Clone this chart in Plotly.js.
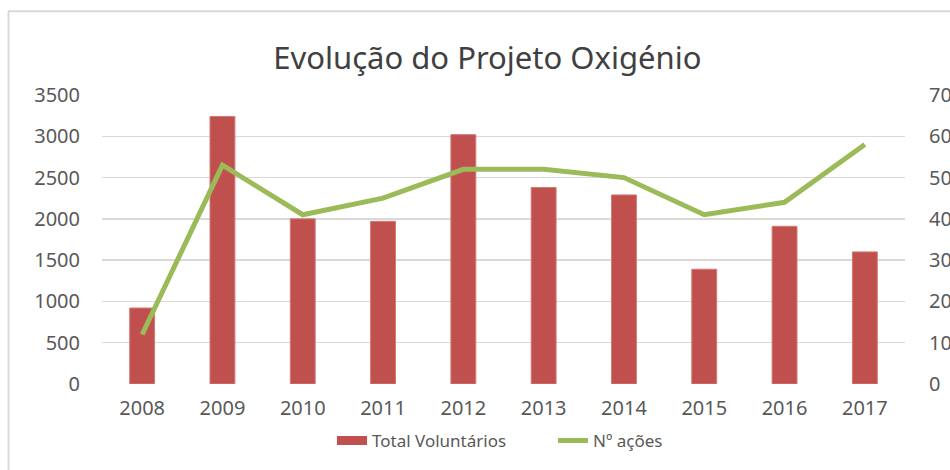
<!DOCTYPE html>
<html>
<head>
<meta charset="utf-8">
<script src="https://cdn.plot.ly/plotly-3.0.1.min.js"></script>
<style>
html,body{margin:0;padding:0;background:#fff;overflow:hidden;}
#chart{width:950px;height:470px;}
</style>
</head>
<body>
<div id="chart"></div>
<script>
const years = ['2008','2009','2010','2011','2012','2013','2014','2015','2016','2017'];
const voluntarios = [920, 3240, 2000, 1970, 3020, 2380, 2290, 1390, 1910, 1600];
const acoes = [12, 53, 41, 45, 52, 52, 50, 41, 44, 58];
const leftTicks = [0,500,1000,1500,2000,2500,3000,3500];
const rightTicks = [0,10,20,30,40,50,60,70];

const font = 'Noto Sans, Open Sans, sans-serif';
const txt = '#595959';
const red = '#C0504D';
const green = '#9BBB59';

const traces = [
  {type:'bar', name:'Total Voluntários', x:years, y:voluntarios, showlegend:false,
   marker:{color:red, line:{color:'#D27A77', width:1}}, yaxis:'y'},
  {type:'scatter', mode:'lines', name:'Total Voluntários', x:[null], y:[null],
   line:{color:red, width:9}, yaxis:'y', hoverinfo:'skip'},
  {type:'scatter', mode:'lines', name:'Nº ações', x:years, y:acoes,
   line:{color:green, width:5}, yaxis:'y2'}
];

const px = v => (v - 102) / 803;
const py = v => (385 - v) / 290;

const layout = {
  width:950, height:470,
  margin:{l:102, r:45, t:95, b:85, pad:0},
  paper_bgcolor:'#fff', plot_bgcolor:'#fff',
  font:{family:font, color:txt, size:20},
  title:{text:'Evolução do Projeto Oxigénio', font:{family:font, size:31, color:'#404040'},
         x:0.513, xanchor:'center', y:1-58/470, yref:'container', yanchor:'middle'},
  bargap:0.69,
  showlegend:true,
  legend:{orientation:'h', x:px(332), xanchor:'left', y:-0.193, yanchor:'middle',
          font:{size:17, color:txt}, tracegroupgap:0, traceorder:'normal',
          entrywidth:176, entrywidthmode:'pixels'},
  xaxis:{type:'category', tickvals:years, ticktext:years, showgrid:false, zeroline:false,
         showline:false, ticks:'', tickfont:{size:20, color:txt}, ticklabelstandoff:10},
  yaxis:{range:[0,3500], tickvals:leftTicks, ticktext:leftTicks.map(String), showgrid:true,
         gridcolor:'#D9D9D9', gridwidth:1.5, zeroline:false, showline:false, ticks:'',
         tickfont:{size:20, color:txt}, ticklabelstandoff:21},
  yaxis2:{range:[0,70], tickvals:rightTicks, ticktext:rightTicks.map(String), overlaying:'y',
          side:'right', showgrid:false, zeroline:false, showline:false, ticks:'',
          tickfont:{size:20, color:txt}, ticklabelstandoff:23},
  shapes:[
    {type:'line', xref:'paper', yref:'paper', x0:px(8.5), x1:px(8.5), y0:py(11), y1:py(475),
     line:{color:'#D9D9D9', width:2}, layer:'below'},
    {type:'line', xref:'paper', yref:'paper', x0:px(8), x1:px(955), y0:py(11), y1:py(11),
     line:{color:'#D9D9D9', width:2}, layer:'below'}
  ]
};

Plotly.newPlot('chart', traces, layout, {displayModeBar:false, staticPlot:true});
</script>
</body>
</html>
